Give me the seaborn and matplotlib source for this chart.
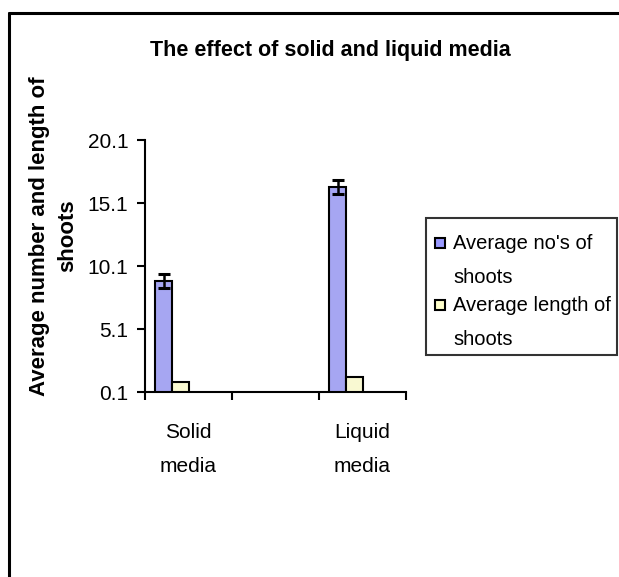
import pandas as pd
import seaborn as sns
import matplotlib.pyplot as plt
from matplotlib.lines import Line2D
from matplotlib.patches import Patch, Rectangle
from matplotlib.legend_handler import HandlerPatch

# data
media = ["Solid\nmedia", "Liquid\nmedia"]
avg_number = [8.9, 16.4]
avg_number_err = [0.55, 0.55]
avg_length = [0.9, 1.3]
series = ["Average no's of\nshoots", "Average length of\nshoots"]
y_ticks = [0.1, 5.1, 10.1, 15.1, 20.1]

df = pd.DataFrame({
    "media": media * 2,
    "value": avg_number + avg_length,
    "series": [series[0]] * 2 + [series[1]] * 2,
})

sns.set_style("white")
plt.rcParams["font.family"] = ["Liberation Sans", "DejaVu Sans"]
plt.rcParams["text.color"] = "black"
plt.rcParams["xtick.color"] = "black"
plt.rcParams["ytick.color"] = "black"
plt.rcParams["axes.labelcolor"] = "black"

fig = plt.figure(figsize=(6.19, 5.77), dpi=100)
ax = fig.add_axes([0.2343, 0.3206, 0.4216, 0.4367])

colors = ["#9999FF", "#FFFFCC", "#ffffff", "#ffffff"]
hue_order = series + ["_a", "_b"]
order = [media[0], " ", media[1]]

sns.barplot(x="media", y="value", hue="series", data=df, order=order, hue_order=hue_order,
            palette=colors, width=0.763, errorbar=None, edgecolor="black", linewidth=1.5,
            legend=False, ax=ax)

# error bars on the number-of-shoots bars
bars = sorted(ax.containers[0], key=lambda b: b.get_x())
xs = [b.get_x() + b.get_width() / 2 for b in bars]
ax.errorbar(xs, avg_number, yerr=avg_number_err, fmt="none", ecolor="black",
            elinewidth=1.8, capsize=4.5, capthick=2.2, zorder=5)

ax.set_ylim(y_ticks[0], y_ticks[-1])
ax.set_yticks(y_ticks)
ax.set_yticklabels([str(t) for t in y_ticks])
ax.set_xlim(-0.5, 2.5)
ax.set_xticks([0, 1, 2])
ax.set_xticklabels([media[0], "", media[1]], linespacing=2.05)
ax.set_xticks([-0.5, 0.5, 1.5, 2.5], minor=True)
ax.tick_params(axis="x", which="major", length=0, pad=22, labelsize=15)
ax.tick_params(axis="x", which="minor", length=6, width=1.5, direction="out", bottom=True)
ax.tick_params(axis="y", length=6, width=1.5, direction="out", left=True, pad=6, labelsize=15)
ax.set_xlabel("")

sns.despine(ax=ax)
for s in ["left", "bottom"]:
    ax.spines[s].set_linewidth(1.5)
    ax.spines[s].set_color("black")

ax.set_ylabel("Average number and length of\nshoots", fontsize=16, fontweight="bold",
              linespacing=1.45)
ax.yaxis.set_label_coords(-0.35, 0.62)
ax.yaxis.label.set_va("center")

fig.text(0.533, 0.912, "The effect of solid and liquid media", ha="center", va="center",
         fontsize=15.5, fontweight="bold")


# legend: handle sits on the first text line
def first_line_patch(legend, orig_handle, xdescent, ydescent, width, height, fontsize):
    side = 0.5 * fontsize
    return Rectangle((xdescent + 0.15 * fontsize, ydescent + height * 0.5 + 0.67 * fontsize), side, side)


handles = [Patch(facecolor=colors[0], edgecolor="black", linewidth=1.5),
           Patch(facecolor=colors[1], edgecolor="black", linewidth=1.5)]
leg = fig.legend(handles, series, loc="upper left", bbox_to_anchor=(0.688, 0.622),
                 fontsize=14.5, frameon=True, fancybox=False, borderpad=0.3,
                 handlelength=0.75, handletextpad=0.3, labelspacing=0.45, borderaxespad=0,
                 handler_map={Patch: HandlerPatch(patch_func=first_line_patch)})
leg.set_title(" ", prop={"size": 1})  # small top gap like the original box
leg.get_frame().set_edgecolor("black")
leg.get_frame().set_linewidth(1.5)
for t in leg.get_texts():
    t.set_linespacing(2.0)

# outer border (left and top edges visible)
fig.add_artist(Line2D([9 / 619, 9 / 619], [0, 1 - 13 / 577], transform=fig.transFigure,
                      color="black", linewidth=2.2))
fig.add_artist(Line2D([9 / 619, 1], [1 - 13 / 577, 1 - 13 / 577], transform=fig.transFigure,
                      color="black", linewidth=2.2))

plt.savefig("out.png", dpi=100)
